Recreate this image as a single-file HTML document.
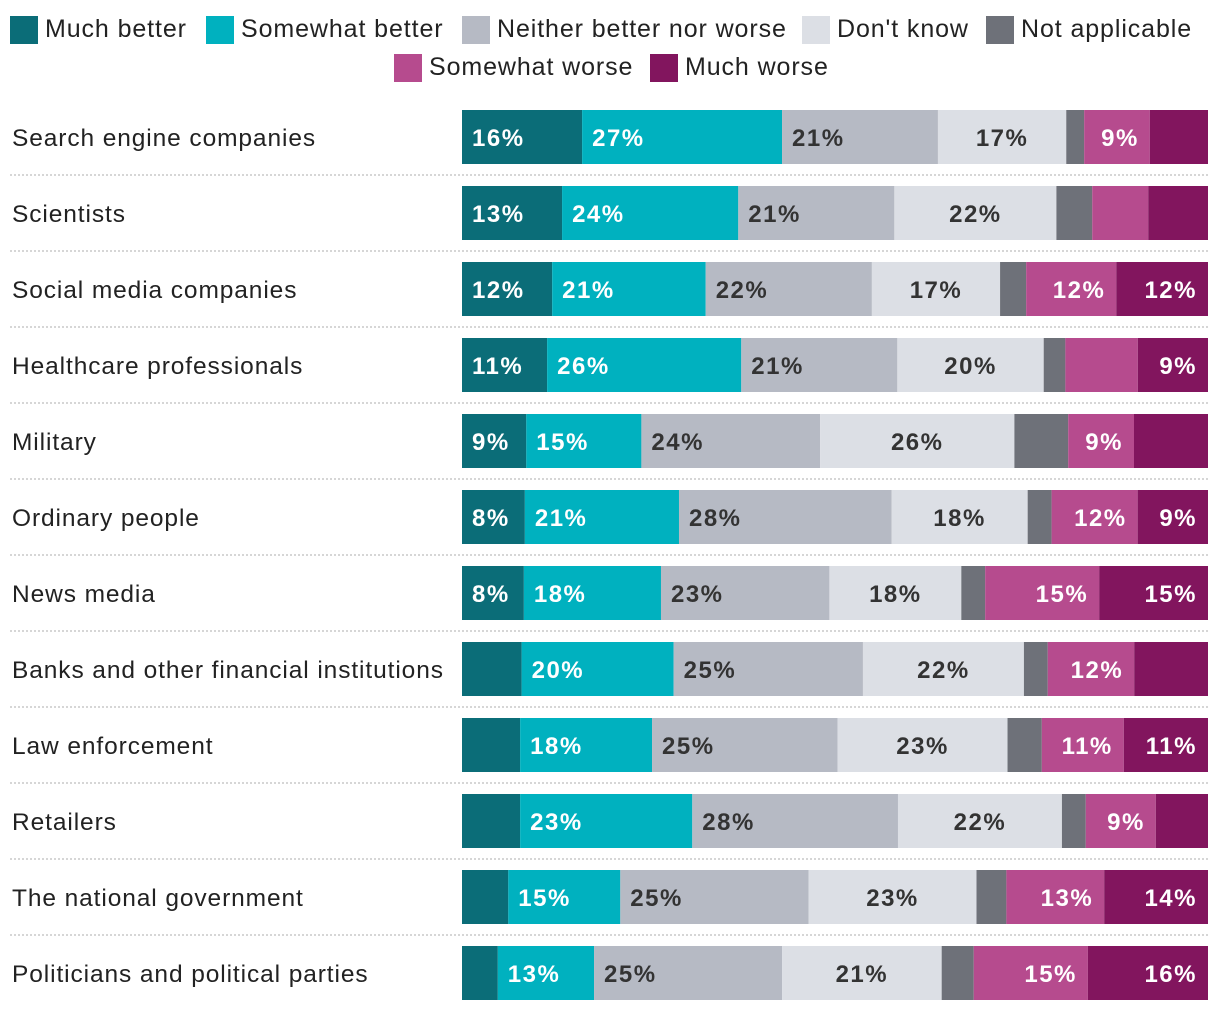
<!DOCTYPE html>
<html><head><meta charset="utf-8">
<style>
body{margin:0;background:#fff;font-family:"Liberation Sans",sans-serif;}
#wrap{position:relative;width:1220px;height:1012px;overflow:hidden;}
.sw{position:absolute;width:28px;height:28px;}
.lt{position:absolute;font-size:25px;letter-spacing:0.9px;color:#222;line-height:28px;white-space:nowrap;}
</style></head>
<body>
<div id="wrap">
<svg id="chart" width="1220" height="1012" style="position:absolute;left:0;top:0"></svg>
</div>
<script>
const categories=["Search engine companies","Scientists","Social media companies","Healthcare professionals","Military","Ordinary people","News media","Banks and other financial institutions","Law enforcement","Retailers","The national government","Politicians and political parties"];
const seriesNames=["Much better","Somewhat better","Neither better nor worse","Don't know","Not applicable","Somewhat worse","Much worse"];
const muchBetter=[16.1,13.4,12.1,11.4,8.6,8.4,8.3,8.0,7.8,7.8,6.2,4.8];
const somewhatBetter=[26.8,23.6,20.6,26.0,15.4,20.6,18.4,20.4,17.7,23.1,15.0,12.9];
const neither=[20.9,20.9,22.3,20.9,23.9,28.4,22.6,25.4,24.9,27.6,25.2,25.2];
const dontKnow=[17.2,21.7,17.2,19.6,26.0,18.2,17.7,21.6,22.8,22.0,22.5,21.4];
const notApplicable=[2.4,4.8,3.5,2.9,7.2,3.2,3.2,3.2,4.6,3.2,4.0,4.3];
const somewhatWorse=[8.8,7.5,12.1,9.7,8.8,11.5,15.3,11.6,11.0,9.4,13.1,15.3];
const muchWorse=[7.8,8.0,12.3,9.4,9.9,9.4,14.6,9.9,11.3,7.0,13.9,16.1];
const showLabel=[
[1,1,1,1,0,1,0],[1,1,1,1,0,0,0],[1,1,1,1,0,1,1],[1,1,1,1,0,0,1],
[1,1,1,1,0,1,0],[1,1,1,1,0,1,1],[1,1,1,1,0,1,1],[0,1,1,1,0,1,0],
[0,1,1,1,0,1,1],[0,1,1,1,0,1,0],[0,1,1,1,0,1,1],[0,1,1,1,0,1,1]];
const colors=["#0b6d78","#00b1bf","#b6bac4","#dcdfe5","#6e7179","#b64b8e","#82155e"];
const textColors=["#fff","#fff","#333","#333","#fff","#fff","#fff"];
const aligns=["left","left","left","center","center","right","right"];
const series=[muchBetter,somewhatBetter,neither,dontKnow,notApplicable,somewhatWorse,muchWorse];

const X0=462,X1=1208,ROW0=110,STEP=76,BH=54;
const xScale=(v,tot)=>v/tot*(X1-X0);
const yScale=i=>ROW0+i*STEP;
const NS="http://www.w3.org/2000/svg";
const svg=document.getElementById('chart');
function mk(t,a){const e=document.createElementNS(NS,t);for(const k in a)e.setAttribute(k,a[k]);return e;}

const wrap=document.getElementById('wrap');
const legPos=[[10,16],[206,16],[462,16],[802,16],[986,16],[394,54],[650,54]];
seriesNames.forEach((n,s)=>{
  const sq=document.createElement('div');sq.className='sw';
  sq.style.left=legPos[s][0]+'px';sq.style.top=legPos[s][1]+'px';sq.style.background=colors[s];
  
  
  wrap.appendChild(sq);
  const t=document.createElement('div');t.className='lt';t.textContent=n;
  t.style.left=(legPos[s][0]+35)+'px';t.style.top=(legPos[s][1]-1)+'px';
  
  
  wrap.appendChild(t);
});

categories.forEach((c,i)=>{
  const y=yScale(i);
  const lab=mk('text',{x:12,y:y+BH/2+9,'font-size':24.5,'letter-spacing':0.9,fill:'#222'});
  lab.textContent=c;
  
  
  svg.appendChild(lab);
  if(i<categories.length-1){
    const ln=mk('line',{x1:10,x2:X1,y1:y+BH+11,y2:y+BH+11,stroke:'#c8c8c8','stroke-width':1.5,'stroke-dasharray':'2,2'});
    
    
    svg.appendChild(ln);
  }
  const tot=series.reduce((a,arr)=>a+arr[i],0);
  let cum=0;
  series.forEach((arr,s)=>{
    const v=arr[i];
    const x=X0+xScale(cum,tot),w=xScale(v,tot);
    const r=mk('rect',{x:x,y:y,width:w,height:BH,fill:colors[s]});
    
    
    svg.appendChild(r);
    if(showLabel[i][s]){
      let tx,anchor;
      if(aligns[s]==='left'){tx=x+10;anchor='start';}
      else if(aligns[s]==='right'){tx=x+w-11;anchor='end';}
      else{tx=x+w/2;anchor='middle';}
      const t=mk('text',{x:tx,y:y+BH/2+9,'font-size':24,'letter-spacing':1.5,'font-weight':'bold',fill:textColors[s],'text-anchor':anchor});
      t.textContent=Math.round(v)+'%';
      
      
      svg.appendChild(t);
    }
    cum+=v;
  });
});
</script>
</body></html>
